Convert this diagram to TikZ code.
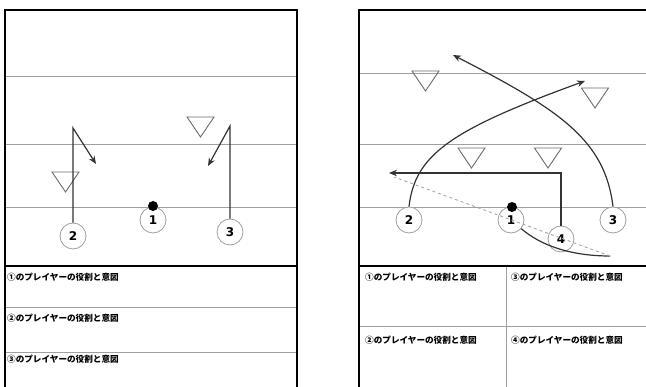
\documentclass[tikz,border=0pt]{standalone}
\usepackage{fontspec}
\newfontfamily\jpfont{Noto Sans CJK JP}
\newfontfamily\numfont{DejaVu Sans}
\usetikzlibrary{calc,arrows.meta}

\tikzset{
  player/.style={circle, draw=gray!75, fill=white, line width=0.8pt, minimum size=26pt, inner sep=0pt,
                 font=\numfont\bfseries\fontsize{12}{12}\selectfont},
  ball/.style={circle, fill=black, minimum size=10pt, inner sep=0pt},
  field/.style={gray!75, line width=1pt},
  frame/.style={black, line width=1.7pt},
  route/.style={black!80, line width=1.2pt},
  pass/.style={gray!70, dashed, line width=0.9pt},
  memo/.style={anchor=west, inner sep=0pt, font=\jpfont\bfseries\fontsize{8.6}{10}\selectfont},
  defender/.pic={\draw[gray!85!black, line width=0.9pt] (-13.5,0) -- (13.5,0) -- (0,20) -- cycle;}
}

\begin{document}
\begin{tikzpicture}[x=1pt,y=-1pt,>={Stealth[length=8pt,width=6.5pt]}]
\useasboundingbox (0,0) rectangle (646,387);

%yard lines
\foreach \y in {77,145,208} \draw[field] (5,\y) -- (297,\y);
\foreach \y in {74,145,208} \draw[field] (359,\y) -- (650,\y);

%memo lines
\draw[field] (5,308) -- (297,308);
\draw[field] (5,353) -- (297,353);
\draw[field] (359,327) -- (650,327);
\draw[field] (506,266) -- (506,395);

%frames
\draw[frame] (5,395) -- (5,10) -- (297,10) -- (297,395);
\draw[frame] (5,266) -- (297,266);
\draw[frame] (359,395) -- (359,10) -- (650,10);
\draw[frame] (359,266) -- (650,266);

%defenders
\pic at (65.5,172) {defender};
\pic at (200.5,117) {defender};
\pic at (425.5,71) {defender};
\pic at (595,88) {defender};
\pic at (471.5,148) {defender};
\pic at (548,148) {defender};

%players, left
\node[player] (L1) at (153,220) {1};
\node[player] (L2) at (73,236) {2};
\node[player] (L3) at (230,232) {3};
\node[ball] (Lball) at (153,206) {};

%players, right
\node[player] (R1) at (511,220) {1};
\node[player] (R2) at (409,220) {2};
\node[player] (R3) at (613,220) {3};
\node[player] (R4) at (561,239) {4};
\node[ball] (Rball) at (512,207) {};

%routes, left
\coordinate (L2a) at (73,128);
\coordinate (L2b) at (96,164);
\coordinate (L3a) at (230,126);
\coordinate (L3b) at (208,166);
\draw[route,->] (L2) -- (L2a) -- (L2b);		%2 up, then in
\draw[route,->] (L3) -- (L3a) -- (L3b);		%3 up, then in

%routes, right
\coordinate (R2end) at (585,81);
\coordinate (R3end) at (453,55);
\coordinate (R4a) at (561,173);
\coordinate (R4end) at (389,173);
\coordinate (R1end) at (610,256);
\coordinate (passend) at (394,177);
\draw[route,->] (R2.north) .. controls (415,155) and (450,130) .. (R2end);	%2 wheel
\draw[route,->] (R3.north) .. controls (605,140) and (560,110) .. (R3end);	%3 post
\draw[route,->] (R4) -- (R4a) -- (R4end);									%4 out
\draw[route] (R1.-40) .. controls (540,245) and (570,256) .. (R1end);		%1 rollout
\draw[pass] (R1end) -- (passend);											%throw

%labels
\node[memo] (Lm1) at (7,277) {①のプレイヤーの役割と意図};
\node[memo] (Lm2) at (7,318) {②のプレイヤーの役割と意図};
\node[memo] (Lm3) at (7,359) {③のプレイヤーの役割と意図};
\node[memo] (Rm1) at (365,277) {①のプレイヤーの役割と意図};
\node[memo] (Rm3) at (511,277) {③のプレイヤーの役割と意図};
\node[memo] (Rm2) at (365,340) {②のプレイヤーの役割と意図};
\node[memo] (Rm4) at (511,340) {④のプレイヤーの役割と意図};

\end{tikzpicture}
\end{document}
